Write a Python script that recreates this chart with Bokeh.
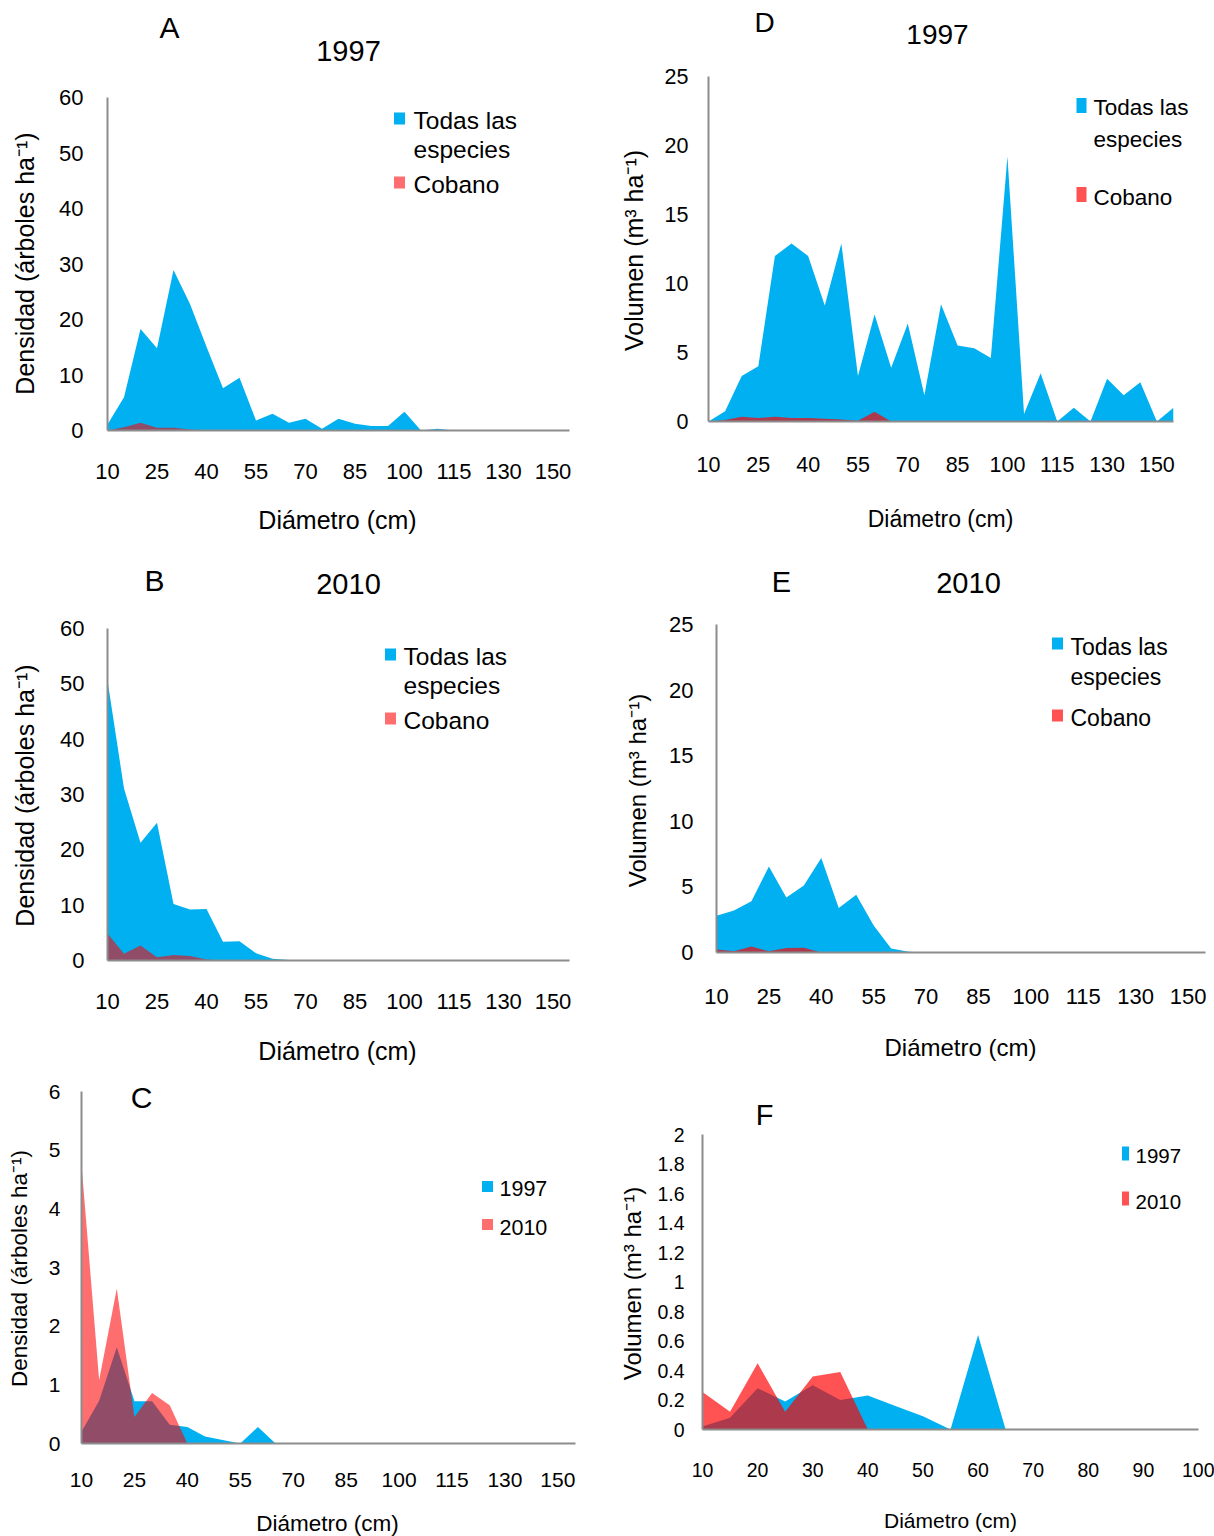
from bokeh.plotting import figure
from bokeh.models import Label, BoxAnnotation, FixedTicker, Range1d, NumeralTickFormatter, GridBox
from bokeh.embed import file_html
from bokeh.resources import INLINE

# ---------------- data ----------------
clase_idx = list(range(29))                       # diameter classes (category positions)
tick_idx = [0, 3, 6, 9, 12, 15, 18, 21, 24, 27]
tick_lab = ["10", "25", "40", "55", "70", "85", "100", "115", "130", "150"]

dens97_todas = [1.1, 6.0, 18.3, 14.8, 28.9, 22.8, 15.1, 7.6, 9.5, 1.8, 3.0, 1.4, 2.1, 0.3, 2.1,
                1.2, 0.8, 0.8, 3.4, 0.0, 0.3, 0.0, 0.0, 0.0, 0.0, 0.0, 0.0, 0.0, 0.0]
dens97_cobano = [0.0, 0.6, 1.4, 0.5, 0.5, 0.2, 0.0, 0.0, 0.0, 0.0, 0.0, 0.0, 0.0, 0.0, 0.0,
                 0.0, 0.0, 0.0, 0.0, 0.0, 0.0, 0.0, 0.0, 0.0, 0.0, 0.0, 0.0, 0.0, 0.0]
dens10_todas = [50.6, 31.1, 21.3, 24.9, 10.2, 9.2, 9.3, 3.4, 3.5, 1.3, 0.3, 0.1, 0.0, 0.0, 0.0,
                0.0, 0.0, 0.0, 0.0, 0.0, 0.0, 0.0, 0.0, 0.0, 0.0, 0.0, 0.0, 0.0, 0.0]
dens10_cobano = [4.9, 1.2, 2.7, 0.6, 1.0, 0.8, 0.2, 0.0, 0.0, 0.0, 0.0, 0.0, 0.0, 0.0, 0.0,
                 0.0, 0.0, 0.0, 0.0, 0.0, 0.0, 0.0, 0.0, 0.0, 0.0, 0.0, 0.0, 0.0, 0.0]
cob_dens_1997 = [0.2, 0.73, 1.64, 0.72, 0.72, 0.32, 0.28, 0.12, 0.06, 0.0, 0.28, 0.0, 0.0, 0.0, 0.0,
                 0.0, 0.0, 0.0, 0.0, 0.0, 0.0, 0.0, 0.0, 0.0, 0.0, 0.0, 0.0, 0.0, 0.0]
cob_dens_2010 = [4.76, 1.08, 2.64, 0.45, 0.86, 0.65, 0.0, 0.0, 0.0, 0.0, 0.0, 0.0, 0.0, 0.0, 0.0,
                 0.0, 0.0, 0.0, 0.0, 0.0, 0.0, 0.0, 0.0, 0.0, 0.0, 0.0, 0.0, 0.0, 0.0]
vol97_todas = [0.0, 0.75, 3.3, 4.0, 12.0, 12.9, 12.0, 8.4, 12.9, 3.3, 7.75, 3.9, 7.1, 1.9, 8.5,
               5.5, 5.3, 4.6, 19.2, 0.55, 3.5, 0.0, 1.0, 0.0, 3.1, 1.9, 2.85, 0.0, 1.0]
vol97_cobano = [0.0, 0.1, 0.35, 0.25, 0.35, 0.25, 0.25, 0.2, 0.15, 0.05, 0.7, 0.0, 0.0, 0.0, 0.0,
                0.0, 0.0, 0.0, 0.0, 0.0, 0.0, 0.0, 0.0, 0.0, 0.0, 0.0, 0.0, 0.0, 0.0]
vol10_todas = [2.8, 3.2, 3.9, 6.55, 4.2, 5.1, 7.2, 3.4, 4.4, 2.05, 0.3, 0.05, 0.0, 0.0, 0.0,
               0.0, 0.0, 0.0, 0.0, 0.0, 0.0, 0.0, 0.0, 0.0, 0.0, 0.0, 0.0, 0.0, 0.0]
vol10_cobano = [0.23, 0.1, 0.45, 0.1, 0.35, 0.37, 0.0, 0.0, 0.0, 0.0, 0.0, 0.0, 0.0, 0.0, 0.0,
                0.0, 0.0, 0.0, 0.0, 0.0, 0.0, 0.0, 0.0, 0.0, 0.0, 0.0, 0.0, 0.0, 0.0]
diam_F = [10, 15, 20, 25, 30, 35, 40, 45, 50, 55, 60, 65, 70, 75, 80, 85, 90, 95, 100]
cob_vol_1997 = [0.02, 0.08, 0.28, 0.19, 0.30, 0.20, 0.23, 0.16, 0.09, 0.0, 0.64, 0.0, 0.0, 0.0,
                0.0, 0.0, 0.0, 0.0, 0.0]
cob_vol_2010 = [0.255, 0.12, 0.45, 0.12, 0.36, 0.39, 0.0, 0.0, 0.0, 0.0, 0.0, 0.0, 0.0, 0.0,
                0.0, 0.0, 0.0, 0.0, 0.0]

# ---------------- styles ----------------
BLUE = "#00B0F0"
RED = "#FF0000"
RED_A = "#FF6E6E"
RED_D = "#FF5252"
FONT = "Liberation Sans"
AXC = "#8C8C8C"
W, H = 1214, 1536


def no_align(p):
    try:
        p.frame_align = False
    except Exception:
        pass


def panel(ox, oy, w, h, fl, fr, ft, fb, xr, yr):
    p = figure(width=w, height=h, output_backend="svg", toolbar_location=None,
               x_range=Range1d(*xr), y_range=Range1d(*yr),
               min_border_left=fl - ox, min_border_right=ox + w - fr,
               min_border_top=ft - oy, min_border_bottom=oy + h - fb)
    p.xgrid.visible = False
    p.ygrid.visible = False
    p.outline_line_color = None
    p.background_fill_color = "white"
    p.border_fill_color = "white"
    no_align(p)
    return p


def axes(p, yticks, xticks, xover, size_x, size_y, ystand, xstand, yfmt=None):
    for ax in (p.xaxis[0], p.yaxis[0]):
        ax.axis_line_color = AXC
        ax.axis_line_width = 2
        ax.major_tick_line_color = None
        ax.minor_tick_line_color = None
        ax.major_tick_in = 0
        ax.major_tick_out = 0
        ax.major_label_text_font = FONT
        ax.major_label_text_color = "black"
    p.yaxis[0].ticker = FixedTicker(ticks=yticks)
    p.xaxis[0].ticker = FixedTicker(ticks=xticks)
    if xover:
        p.xaxis[0].major_label_overrides = xover
    if yfmt:
        p.yaxis[0].formatter = yfmt
    p.xaxis[0].major_label_text_font_size = f"{size_x}px"
    p.yaxis[0].major_label_text_font_size = f"{size_y}px"
    p.yaxis[0].major_label_standoff = ystand
    p.xaxis[0].major_label_standoff = xstand


xover = {i: l for i, l in zip(tick_idx, tick_lab)}

# ---------------- panels ----------------
pA = panel(0, 0, 607, 540, 107, 569, 97, 430, (0, 28), (0, 60))
pA.varea(x=clase_idx, y1=0, y2=dens97_todas, fill_color=BLUE, fill_alpha=1.0)
pA.varea(x=clase_idx, y1=0, y2=dens97_cobano, fill_color=RED, fill_alpha=0.57)
axes(pA, list(range(0, 61, 10)), tick_idx, xover, 22, 22, 24, 33)

pD = panel(607, 0, 607, 540, 708, 1173, 76, 421, (0, 28), (0, 25))
pD.varea(x=clase_idx, y1=0, y2=vol97_todas, fill_color=BLUE, fill_alpha=1.0)
pD.varea(x=clase_idx, y1=0, y2=vol97_cobano, fill_color=RED, fill_alpha=0.68)
axes(pD, list(range(0, 26, 5)), tick_idx, xover, 21.5, 21.5, 20, 35)

pB = panel(0, 540, 607, 530, 107, 569, 628, 960, (0, 28), (0, 60))
pB.varea(x=clase_idx, y1=0, y2=dens10_todas, fill_color=BLUE, fill_alpha=1.0)
pB.varea(x=clase_idx, y1=0, y2=dens10_cobano, fill_color=RED, fill_alpha=0.57)
axes(pB, list(range(0, 61, 10)), tick_idx, xover, 22, 22, 23, 33)

pE = panel(607, 540, 607, 530, 716, 1205, 624, 952, (0, 28), (0, 25))
pE.varea(x=clase_idx, y1=0, y2=vol10_todas, fill_color=BLUE, fill_alpha=1.0)
pE.varea(x=clase_idx, y1=0, y2=vol10_cobano, fill_color=RED, fill_alpha=0.68)
axes(pE, list(range(0, 26, 5)), tick_idx, xover, 22, 22, 23, 36)

pC = panel(0, 1070, 607, 466, 81, 575, 1091, 1443, (0, 28), (0, 6))
pC.varea(x=clase_idx, y1=0, y2=cob_dens_1997, fill_color=BLUE, fill_alpha=1.0)
pC.varea(x=clase_idx, y1=0, y2=cob_dens_2010, fill_color=RED, fill_alpha=0.57)
axes(pC, list(range(0, 7)), tick_idx, xover, 21, 21, 21, 29)

pF = panel(607, 1070, 607, 466, 702, 1198, 1134, 1429, (10, 100), (0, 2))
pF.varea(x=diam_F, y1=0, y2=cob_vol_1997, fill_color=BLUE, fill_alpha=1.0)
pF.varea(x=diam_F, y1=0, y2=cob_vol_2010, fill_color=RED, fill_alpha=0.68)
axes(pF, [0, 0.2, 0.4, 0.6, 0.8, 1, 1.2, 1.4, 1.6, 1.8, 2], list(range(10, 101, 10)), None,
     19.5, 19.5, 18, 33, yfmt=NumeralTickFormatter(format="0.[0]"))

# ---------------- overlay for titles, axis titles and legends (page pixels) ----------------
ov = figure(width=W, height=H, output_backend="svg", toolbar_location=None,
            x_range=Range1d(0, W), y_range=Range1d(H, 0),
            x_axis_location=None, y_axis_location=None, min_border=0)
ov.xgrid.visible = False
ov.ygrid.visible = False
ov.outline_line_color = None
ov.background_fill_color = None
ov.border_fill_color = None
no_align(ov)


def text(x, y, t, size, angle=0, align="center"):
    ov.add_layout(Label(x=x, y=y, text=t, text_font_size=f"{size}px", text_font=FONT,
                        angle=angle, angle_units="deg", text_align=align,
                        text_baseline="middle", text_color="black"))


def swatch(cx, cy, w, h, color):
    ov.add_layout(BoxAnnotation(left=cx - w / 2, right=cx + w / 2, top=cy - h / 2, bottom=cy + h / 2,
                                fill_color=color, fill_alpha=1.0, line_color=None))


YL_D = "Densidad (árboles ha⁻¹)"
YL_V = "Volumen (m³ ha⁻¹)"
XL = "Diámetro (cm)"

# A
text(169, 27, "A", 30)
text(348, 50, "1997", 29)
text(24, 263, YL_D, 25, angle=90)
text(337, 519, XL, 25)
swatch(399, 118, 11, 12, BLUE)
swatch(399, 182, 11, 12, RED_A)
text(413, 120, "Todas las", 24.5, align="left")
text(413, 149, "especies", 24.5, align="left")
text(413, 184, "Cobano", 24.5, align="left")
# D
text(764, 22, "D", 28)
text(937, 34, "1997", 28)
text(633, 250, YL_V, 25, angle=90)
text(940, 518, XL, 23)
swatch(1081, 105, 10, 15, BLUE)
swatch(1081, 194, 10, 15, RED_D)
text(1093, 107, "Todas las", 22.5, align="left")
text(1093, 139, "especies", 22.5, align="left")
text(1093, 197, "Cobano", 22.5, align="left")
# B
text(154, 580, "B", 30)
text(348, 583, "2010", 29)
text(24, 795, YL_D, 25, angle=90)
text(337, 1050, XL, 25)
swatch(390, 654, 11, 12, BLUE)
swatch(390, 718, 11, 12, RED_A)
text(403, 656, "Todas las", 24.5, align="left")
text(403, 685, "especies", 24.5, align="left")
text(403, 720, "Cobano", 24.5, align="left")
# E
text(781, 581, "E", 29)
text(968, 582, "2010", 29)
text(637, 790, YL_V, 24, angle=90)
text(960, 1047, XL, 24)
swatch(1057, 643, 11, 12, BLUE)
swatch(1057, 715, 11, 12, RED_D)
text(1070, 646, "Todas las", 23, align="left")
text(1070, 676, "especies", 23, align="left")
text(1070, 717, "Cobano", 23, align="left")
# C
text(141, 1097, "C", 30)
text(19, 1268, YL_D, 22.5, angle=90)
text(327, 1523, XL, 22.5)
swatch(487, 1186, 11, 11, BLUE)
swatch(487, 1224, 11, 11, RED_A)
text(499, 1188, "1997", 21.5, align="left")
text(499, 1227, "2010", 21.5, align="left")
# F
text(764, 1114, "F", 29)
text(632, 1283, YL_V, 24, angle=90)
text(950, 1520, XL, 21)
swatch(1125, 1153, 7, 14, BLUE)
swatch(1125, 1198, 7, 14, RED_D)
text(1135, 1155, "1997", 20.5, align="left")
text(1135, 1201, "2010", 20.5, align="left")

layout = GridBox(children=[(pA, 0, 0), (pD, 0, 1), (pB, 1, 0), (pE, 1, 1), (pC, 2, 0), (pF, 2, 1),
                           (ov, 0, 0, 3, 2)], spacing=0)

open("out.html", "w").write(file_html(layout, INLINE))
